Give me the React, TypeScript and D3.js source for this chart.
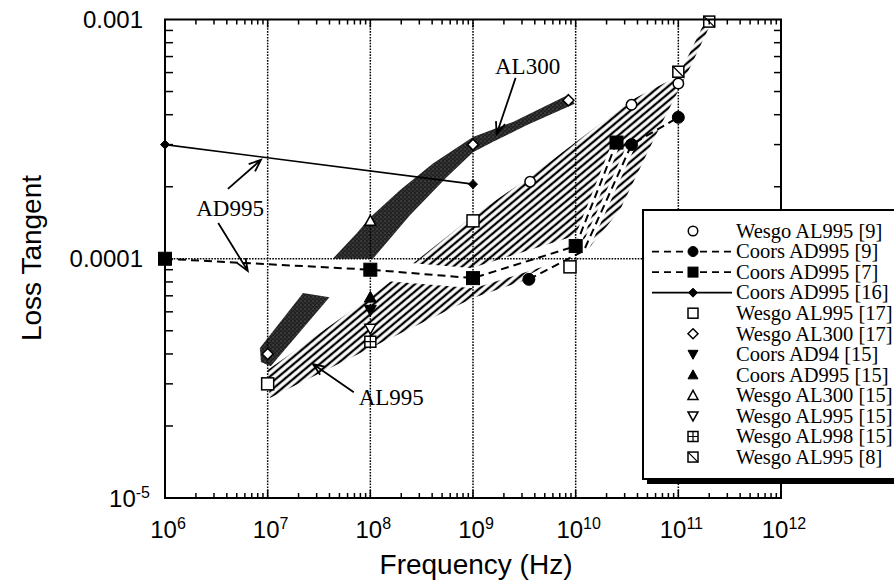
import React, { useEffect, useRef } from 'react';
import * as d3 from 'd3';

// each point: [frequency (Hz), loss tangent]
const wesgoAL995_9 = [[3.6e9, 2.1e-4], [3.5e10, 4.4e-4], [1e11, 5.4e-4]];
const coorsAD995_9 = [[3.5e9, 8.2e-5], [3.5e10, 3.0e-4], [1e11, 3.9e-4]];
const coorsAD995_9Line = [[3.5e9, 8.2e-5], [1.2e10, 1.08e-4], [3.5e10, 3.0e-4], [1e11, 3.9e-4]];
const coorsAD995_7 = [[1e6, 1e-4], [1e8, 9.0e-5], [1e9, 8.3e-5], [1e10, 1.13e-4], [2.5e10, 3.06e-4]];
const coorsAD995_16 = [[1e6, 3.0e-4], [1e9, 2.05e-4]];
const wesgoAL995_17 = [[1e7, 3.0e-5], [1e9, 1.44e-4], [8.8e9, 9.25e-5]];
const wesgoAL300_17 = [[1e7, 4.0e-5], [1e9, 3.0e-4], [8.5e9, 4.6e-4]];
const coorsAD94_15 = [[1e8, 6.1e-5]];
const coorsAD995_15 = [[1e8, 6.9e-5]];
const wesgoAL300_15 = [[1e8, 1.44e-4]];
const wesgoAL995_15 = [[1e8, 5.1e-5]];
const wesgoAL998_15 = [[1e8, 4.5e-5]];
const wesgoAL995_8 = [[1e11, 6.05e-4], [2e11, 9.8e-4]];

// shaded ranges
const al995BandTop = [[1e7, 3.43e-5], [1e8, 6.9e-5], [1e9, 1.51e-4], [3.6e9, 2.2e-4], [3.5e10, 4.61e-4], [1e11, 5.81e-4], [1.86e11, 1.0e-3]];
const al995BandBottom = [[1.05e7, 2.62e-5], [1e8, 4.24e-5], [1e9, 6.86e-5], [1.05e10, 9.7e-5], [2.7e10, 1.6e-4], [6.2e10, 3.36e-4], [1.3e11, 6.3e-4], [2.17e11, 1.0e-3]];
const al300BandTop = [[4.3e7, 1e-4], [7.4e7, 1.28e-4], [1e8, 1.49e-4], [1.95e8, 1.94e-4], [4.1e8, 2.51e-4], [1e9, 3.23e-4], [2.45e9, 3.73e-4], [8.4e9, 4.83e-4]];
const al300BandBottom = [[1.06e8, 1e-4], [2.43e8, 1.52e-4], [5.6e8, 2.2e-4], [1e9, 2.79e-4], [1.57e9, 3.08e-4], [3.36e9, 3.62e-4], [9.8e9, 4.44e-4]];
const al300LowPatch = [[8.4e6, 4.24e-5], [2.21e7, 7.2e-5], [4.0e7, 6.9e-5], [1.07e7, 3.55e-5], [8.6e6, 3.7e-5]];

const xTickValues = [1e6, 1e7, 1e8, 1e9, 1e10, 1e11, 1e12];
const xTickExponents = ['6', '7', '8', '9', '10', '11', '12'];
const yTickValues = [1e-3, 1e-4, 1e-5];
const yTickText = ['0.001', '0.0001', '10'];
const yTickSup = ['', '', '-5'];

const legendLabels = [
  'Wesgo AL995 [9]', 'Coors AD995 [9]', 'Coors AD995 [7]', 'Coors AD995 [16]',
  'Wesgo AL995 [17]', 'Wesgo AL300 [17]', 'Coors AD94 [15]', 'Coors AD995 [15]',
  'Wesgo AL300 [15]', 'Wesgo AL995 [15]', 'Wesgo AL998 [15]', 'Wesgo AL995 [8]',
];
const legendMarkers = [
  'circleOpen', 'circleFilled', 'squareFilled', 'diamondFilled',
  'squareOpen', 'diamondOpen', 'triDownFilled', 'triUpFilled',
  'triUpOpen', 'triDownOpen', 'squarePlus', 'squareSlash',
];
const legendLines = ['', 'dash', 'dash', 'solid', '', '', '', '', '', '', '', ''];

// annotation: label position, arrows [tail, tip]
const annotations = [
  { text: 'AL300', at: [3.4e9, 6.4e-4], arrows: [[[2.6e9, 5.7e-4], [1.7e9, 3.32e-4]]] },
  { text: 'AD995', at: [4.3e6, 1.63e-4], arrows: [[[4.1e6, 1.96e-4], [8.6e6, 2.59e-4]], [[3.3e6, 1.41e-4], [6.4e6, 8.9e-5]]] },
  { text: 'AL995', at: [1.6e8, 2.64e-5], arrows: [[[6.9e7, 2.77e-5], [2.76e7, 3.63e-5]]] },
];

const SANS = '"Liberation Sans", Arial, Helvetica, sans-serif';
const SERIF = '"Liberation Serif", "Times New Roman", serif';

function drawMarker(g: any, type: string, cx: number, cy: number, s: number) {
  const m = g.append('g').attr('transform', `translate(${cx},${cy})`);
  const h = s / 2;
  const sw = 1.5;
  const open = (sel: any) => sel.attr('fill', '#fff').attr('stroke', '#000').attr('stroke-width', sw);
  const fill = (sel: any) => sel.attr('fill', '#000').attr('stroke', '#000').attr('stroke-width', 1);
  switch (type) {
    case 'circleOpen': open(m.append('circle').attr('r', h * 0.95)); break;
    case 'circleFilled': fill(m.append('circle').attr('r', h)); break;
    case 'squareOpen': open(m.append('rect').attr('x', -h).attr('y', -h).attr('width', s).attr('height', s)); break;
    case 'squareFilled': fill(m.append('rect').attr('x', -h).attr('y', -h).attr('width', s).attr('height', s)); break;
    case 'diamondOpen': open(m.append('path').attr('d', `M0,${-h}L${h},0L0,${h}L${-h},0Z`)); break;
    case 'diamondFilled': fill(m.append('path').attr('d', `M0,${-h}L${h},0L0,${h}L${-h},0Z`)); break;
    case 'triUpFilled': fill(m.append('path').attr('d', `M0,${-h}L${h},${h * 0.8}L${-h},${h * 0.8}Z`)); break;
    case 'triDownFilled': fill(m.append('path').attr('d', `M0,${h}L${h},${-h * 0.8}L${-h},${-h * 0.8}Z`)); break;
    case 'triUpOpen': open(m.append('path').attr('d', `M0,${-h}L${h},${h * 0.8}L${-h},${h * 0.8}Z`)); break;
    case 'triDownOpen': open(m.append('path').attr('d', `M0,${h}L${h},${-h * 0.8}L${-h},${-h * 0.8}Z`)); break;
    case 'squarePlus':
      open(m.append('rect').attr('x', -h).attr('y', -h).attr('width', s).attr('height', s));
      m.append('path').attr('d', `M0,${-h}V${h}M${-h},0H${h}`).attr('stroke', '#000').attr('stroke-width', 1.2);
      break;
    case 'squareSlash':
      open(m.append('rect').attr('x', -h).attr('y', -h).attr('width', s).attr('height', s));
      m.append('path').attr('d', `M${-h},${-h}L${h},${h}`).attr('stroke', '#000').attr('stroke-width', 1.2);
      break;
  }
}

function drawArrow(g: any, x1: number, y1: number, x2: number, y2: number) {
  const a = Math.atan2(y2 - y1, x2 - x1);
  const L = 13, s = 0.38;
  g.append('path')
    .attr('d', `M${x1},${y1}L${x2},${y2}M${x2 - L * Math.cos(a - s)},${y2 - L * Math.sin(a - s)}L${x2},${y2}L${x2 - L * Math.cos(a + s)},${y2 - L * Math.sin(a + s)}`)
    .attr('fill', 'none').attr('stroke', '#000').attr('stroke-width', 1.8);
}

const App = () => {
  const svgRef = useRef<SVGSVGElement>(null);

  useEffect(() => {
    const width = 894;
    const height = 581;
    const left = 165, right = 781, top = 19.5, bottom = 498;

    const svg = d3.select(svgRef.current);
    svg.selectAll('*').remove();
    svg.attr('width', width).attr('height', height);

    const x = d3.scaleLog().domain([1e6, 1e12]).range([left, right]);
    const y = d3.scaleLog().domain([1e-5, 1e-3]).range([bottom, top]);
    const line = d3.line<any>().x((d) => x(d[0])).y((d) => y(d[1]));

    const defs = svg.append('defs');
    const hatch = defs.append('pattern').attr('id', 'hatch').attr('patternUnits', 'userSpaceOnUse')
      .attr('width', 10).attr('height', 5.6).attr('patternTransform', 'rotate(-40)');
    hatch.append('rect').attr('width', 10).attr('height', 5.6).attr('fill', '#fff');
    hatch.append('line').attr('x1', 0).attr('x2', 10).attr('y1', 2.8).attr('y2', 2.8).attr('stroke', '#000').attr('stroke-width', 2.3);

    const stip = defs.append('pattern').attr('id', 'stipple').attr('patternUnits', 'userSpaceOnUse')
      .attr('width', 4).attr('height', 4);
    stip.append('rect').attr('width', 4).attr('height', 4).attr('fill', '#222');
    stip.append('circle').attr('cx', 1).attr('cy', 1).attr('r', 0.6).attr('fill', '#8a8a8a');
    stip.append('circle').attr('cx', 3).attr('cy', 3).attr('r', 0.5).attr('fill', '#666');

    defs.append('clipPath').attr('id', 'plotClip').append('rect')
      .attr('x', left).attr('y', top).attr('width', right - left).attr('height', bottom - top);

    const plot = svg.append('g').attr('clip-path', 'url(#plotClip)');

    // shaded bands
    const band = (a: number[][], b: number[][]) => line([...a, ...b.slice().reverse()]) + 'Z';
    plot.append('path').attr('d', band(al300BandTop, al300BandBottom)).attr('fill', 'url(#stipple)');
    plot.append('path').attr('d', line(al300LowPatch) + 'Z').attr('fill', 'url(#stipple)');
    plot.append('path').attr('d', band(al995BandTop, al995BandBottom)).attr('fill', 'url(#hatch)');

    // gaps where the dashed curves cut the hatching
    plot.append('path').attr('d', line(coorsAD995_7.slice(1, 4))).attr('fill', 'none')
      .attr('stroke', '#fff').attr('stroke-width', 20).attr('stroke-linecap', 'round');
    plot.append('path').attr('d', line(coorsAD995_7.slice(3))).attr('fill', 'none')
      .attr('stroke', '#fff').attr('stroke-width', 8);
    plot.append('path').attr('d', line(coorsAD995_9Line.slice(0, 3))).attr('fill', 'none')
      .attr('stroke', '#fff').attr('stroke-width', 8);

    // dotted grid
    const grid = plot.append('g').attr('stroke', '#000').attr('stroke-width', 1.5).attr('stroke-dasharray', '1.6,1.3');
    xTickValues.slice(1, -1).forEach((v) => {
      grid.append('line').attr('x1', x(v)).attr('x2', x(v)).attr('y1', top).attr('y2', bottom);
    });
    grid.append('line').attr('x1', left).attr('x2', right).attr('y1', y(1e-4)).attr('y2', y(1e-4));

    // series lines
    plot.append('path').attr('d', line(coorsAD995_7)).attr('fill', 'none').attr('stroke', '#000')
      .attr('stroke-width', 2).attr('stroke-dasharray', '8,5');
    plot.append('path').attr('d', line(coorsAD995_9Line)).attr('fill', 'none').attr('stroke', '#000')
      .attr('stroke-width', 2).attr('stroke-dasharray', '8,5');
    plot.append('path').attr('d', line(coorsAD995_16)).attr('fill', 'none').attr('stroke', '#000')
      .attr('stroke-width', 1.6);

    // markers
    const mk = svg.append('g');
    const series: [number[][], string, number][] = [
      [wesgoAL995_17, 'squareOpen', 12],
      [wesgoAL300_17, 'diamondOpen', 11],
      [wesgoAL995_9, 'circleOpen', 11],
      [coorsAD995_9, 'circleFilled', 12],
      [coorsAD995_7, 'squareFilled', 13],
      [coorsAD995_16, 'diamondFilled', 9],
      [coorsAD94_15, 'triDownFilled', 12],
      [coorsAD995_15, 'triUpFilled', 12],
      [wesgoAL300_15, 'triUpOpen', 11],
      [wesgoAL995_15, 'triDownOpen', 11],
      [wesgoAL998_15, 'squarePlus', 11],
      [wesgoAL995_8, 'squareSlash', 11],
    ];
    series.forEach(([pts, type, s]) => pts.forEach((d) => drawMarker(mk, type, x(d[0]), y(d[1]), s)));

    // annotations
    const ann = svg.append('g');
    annotations.forEach((a) => {
      ann.append('text').attr('x', x(a.at[0])).attr('y', y(a.at[1])).attr('dy', '0.35em')
        .attr('text-anchor', 'middle').attr('font-family', SERIF).attr('font-size', 23).text(a.text);
      a.arrows.forEach(([t, p]) => drawArrow(ann, x(t[0]), y(t[1]), x(p[0]), y(p[1])));
    });

    // frame and ticks
    const axes = svg.append('g').attr('stroke', '#000');
    axes.append('rect').attr('x', left).attr('y', top).attr('width', right - left).attr('height', bottom - top)
      .attr('fill', 'none').attr('stroke-width', 2);
    for (let e = 6; e < 12; e++) {
      for (let k = 2; k <= 9; k++) {
        const px = x(k * Math.pow(10, e));
        axes.append('line').attr('x1', px).attr('x2', px).attr('y1', bottom).attr('y2', bottom - 5).attr('stroke-width', 1.5);
        axes.append('line').attr('x1', px).attr('x2', px).attr('y1', top).attr('y2', top + 5).attr('stroke-width', 1.5);
      }
    }
    xTickValues.forEach((v) => {
      axes.append('line').attr('x1', x(v)).attr('x2', x(v)).attr('y1', bottom).attr('y2', bottom - 8).attr('stroke-width', 1.5);
      axes.append('line').attr('x1', x(v)).attr('x2', x(v)).attr('y1', top).attr('y2', top + 8).attr('stroke-width', 1.5);
    });
    for (let e = -5; e < -3; e++) {
      for (let k = 2; k <= 9; k++) {
        const py = y(k * Math.pow(10, e));
        axes.append('line').attr('x1', left).attr('x2', left + 8).attr('y1', py).attr('y2', py).attr('stroke-width', 1.5);
        axes.append('line').attr('x1', right).attr('x2', right - 7).attr('y1', py).attr('y2', py).attr('stroke-width', 1.5);
      }
    }

    // tick labels
    xTickValues.forEach((v, i) => {
      const t = svg.append('text').attr('x', x(v) + 3).attr('y', 538).attr('text-anchor', 'middle')
        .attr('font-family', SANS).attr('font-size', 24);
      t.append('tspan').text('10');
      t.append('tspan').attr('dy', -9).attr('font-size', 16).text(xTickExponents[i]);
    });
    yTickValues.forEach((v, i) => {
      const t = svg.append('text').attr('x', yTickSup[i] ? 150 : 143).attr('y', y(v) + 8.5).attr('text-anchor', 'end')
        .attr('font-family', SANS).attr('font-size', 24);
      t.append('tspan').text(yTickText[i]);
      if (yTickSup[i]) t.append('tspan').attr('dy', -9).attr('font-size', 16).text(yTickSup[i]);
    });

    svg.append('text').attr('x', 476).attr('y', 574).attr('text-anchor', 'middle')
      .attr('font-family', SANS).attr('font-size', 28).text('Frequency (Hz)');
    svg.append('text').attr('transform', 'translate(41,258) rotate(-90)').attr('text-anchor', 'middle')
      .attr('font-family', SANS).attr('font-size', 28).text('Loss Tangent');

    // legend
    const lg = svg.append('g');
    lg.append('rect').attr('x', 647).attr('y', 214).attr('width', 260).attr('height', 270).attr('fill', '#000');
    lg.append('rect').attr('x', 643).attr('y', 210).attr('width', 260).attr('height', 269)
      .attr('fill', '#fff').attr('stroke', '#000').attr('stroke-width', 2);
    legendLabels.forEach((label, i) => {
      const cy = 231 + i * 20.55;
      if (legendLines[i]) {
        lg.append('line').attr('x1', 652).attr('x2', 732).attr('y1', cy).attr('y2', cy)
          .attr('stroke', '#000').attr('stroke-width', 1.8)
          .attr('stroke-dasharray', legendLines[i] === 'dash' ? '7,5' : null);
      }
      drawMarker(lg, legendMarkers[i], 693, cy, legendMarkers[i] === 'diamondFilled' ? 9 : 10);
      lg.append('text').attr('x', 736).attr('y', cy).attr('dy', '0.33em')
        .attr('font-family', SERIF).attr('font-size', 20.5).text(label);
    });
  }, []);

  return (
    <div style={{ position: 'absolute', left: 0, top: 0, background: '#fff' }}>
      <svg ref={svgRef}></svg>
    </div>
  );
};

export default App;
